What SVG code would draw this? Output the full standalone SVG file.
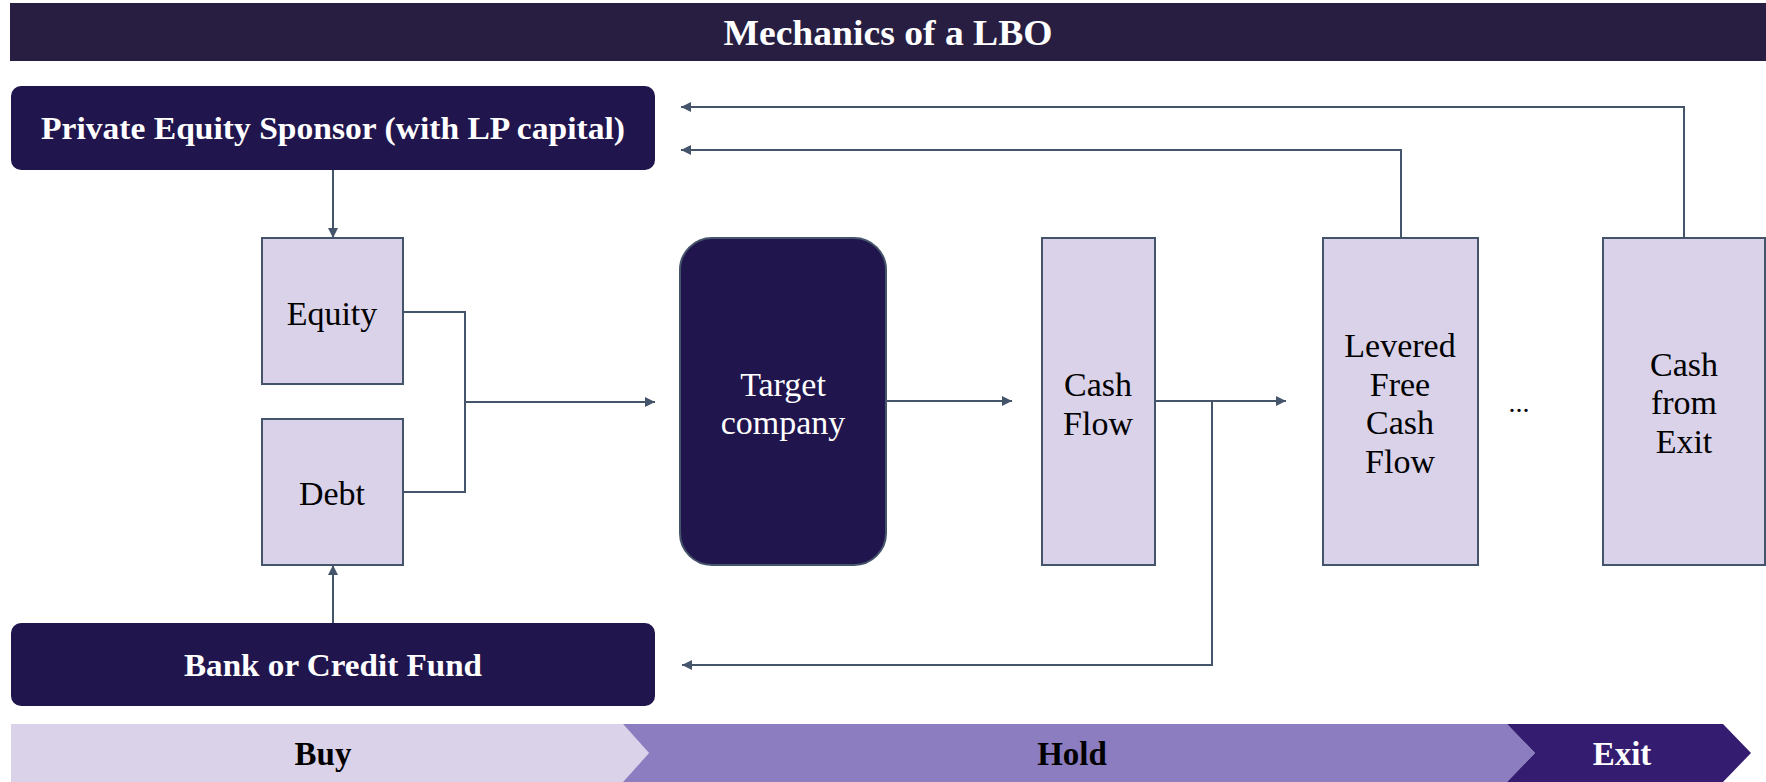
<svg xmlns="http://www.w3.org/2000/svg" width="1766" height="782" viewBox="0 0 1766 782">
<style>
.t{font-family:"Liberation Serif","Times New Roman",serif;text-anchor:middle;dominant-baseline:central}
.w{fill:#ffffff}
.k{fill:#000000}
.b{font-weight:bold}
.lb{fill:#D9D2E9;stroke:#44546A;stroke-width:2}
.dk{fill:#21154E}
.c{fill:none;stroke:#44546A;stroke-width:2}
</style>
<defs>
<marker id="ah" viewBox="0 0 10 10" refX="10" refY="5" markerWidth="12" markerHeight="10" markerUnits="userSpaceOnUse" orient="auto">
<path d="M0,0 L10,5 L0,10 z" fill="#44546A"/>
</marker>
</defs>
<rect width="1766" height="782" fill="#ffffff"/>
<g id="title">
<rect x="10" y="3" width="1756" height="58" fill="#271E42"/>
<text class="t w b" x="888" y="33" font-size="35" textLength="329" lengthAdjust="spacingAndGlyphs">Mechanics of a LBO</text>
</g>
<g id="pe-sponsor">
<rect class="dk" x="11" y="86" width="644" height="84" rx="10"/>
<text class="t w b" x="333" y="128" font-size="32" textLength="584" lengthAdjust="spacingAndGlyphs">Private Equity Sponsor (with LP capital)</text>
</g>
<g id="bank">
<rect class="dk" x="11" y="623" width="644" height="83" rx="10"/>
<text class="t w b" x="333" y="665" font-size="32" textLength="298" lengthAdjust="spacingAndGlyphs">Bank or Credit Fund</text>
</g>
<g id="equity">
<rect class="lb" x="262" y="238" width="141" height="146"/>
<text class="t k" x="332" y="313" font-size="34">Equity</text>
</g>
<g id="debt">
<rect class="lb" x="262" y="419" width="141" height="146"/>
<text class="t k" x="332" y="493" font-size="34">Debt</text>
</g>
<g id="target">
<rect x="680" y="238" width="206" height="327" rx="32" fill="#21154E" stroke="#44546A" stroke-width="2"/>
<text class="t w" x="783" y="384" font-size="34">Target</text>
<text class="t w" x="783" y="422" font-size="34">company</text>
</g>
<g id="cash-flow">
<rect class="lb" x="1042" y="238" width="113" height="327"/>
<text class="t k" x="1098" y="384" font-size="34">Cash</text>
<text class="t k" x="1098" y="423" font-size="34">Flow</text>
</g>
<g id="levered">
<rect class="lb" x="1323" y="238" width="155" height="327"/>
<text class="t k" x="1400" y="345" font-size="34">Levered</text>
<text class="t k" x="1400" y="384" font-size="34">Free</text>
<text class="t k" x="1400" y="422" font-size="34">Cash</text>
<text class="t k" x="1400" y="461" font-size="34">Flow</text>
</g>
<g id="ellipsis">
<text class="t k" x="1519" y="402" font-size="28">...</text>
</g>
<g id="exit-cash">
<rect class="lb" x="1603" y="238" width="162" height="327"/>
<text class="t k" x="1684" y="364" font-size="34">Cash</text>
<text class="t k" x="1684" y="402" font-size="34">from</text>
<text class="t k" x="1684" y="441" font-size="34">Exit</text>
</g>
<g id="phases">
<polygon points="11,724 623,724 649,753 623,782 11,782" fill="#D9D2E9"/>
<polygon points="623,724 1507,724 1535,753 1507,782 623,782 649,753" fill="#8C7DC0"/>
<polygon points="1507,724 1723,724 1751,753 1723,782 1507,782 1535,753" fill="#341C70"/>
<text class="t k b" x="323" y="754" font-size="33">Buy</text>
<text class="t k b" x="1072" y="754" font-size="33">Hold</text>
<text class="t w b" x="1622" y="754" font-size="33">Exit</text>
</g>
<g id="connectors">
<path class="c" d="M333,170 V238" marker-end="url(#ah)"/>
<path class="c" d="M333,623 V565" marker-end="url(#ah)"/>
<path class="c" d="M403,312 H465 V492 H403"/>
<path class="c" d="M465,402 H655" marker-end="url(#ah)"/>
<path class="c" d="M886,401 H1012" marker-end="url(#ah)"/>
<path class="c" d="M1155,401 H1286" marker-end="url(#ah)"/>
<path class="c" d="M1212,401 V665 H682" marker-end="url(#ah)"/>
<path class="c" d="M1401,238 V150 H681" marker-end="url(#ah)"/>
<path class="c" d="M1684,238 V107 H681" marker-end="url(#ah)"/>
</g>
</svg>
